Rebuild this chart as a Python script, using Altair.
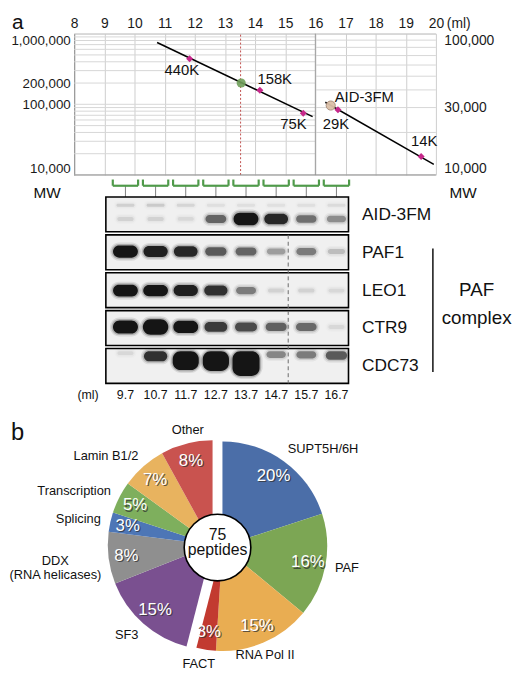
import numpy as np
import pandas as pd
import altair as alt

FONT = "Liberation Sans, Arial, Helvetica, sans-serif"

# ---------------- panel a : gel-filtration calibration ----------------
ml_ticks = [8, 9, 10, 11, 12, 13, 14, 15, 16, 17, 18, 19, 20]
left_range_ml = [8, 16]
right_range_ml = [16, 20]
left_labels_mw = [10000, 100000, 200000, 1000000]
right_labels_mw = [10000, 30000, 100000]
grid_left_mw = [10000, 20000, 30000, 40000, 50000, 60000, 70000, 80000, 90000,
                100000, 200000, 300000, 400000, 500000, 600000, 700000, 800000,
                900000, 1000000]
grid_right_mw = [10000, 20000, 30000, 40000, 50000, 60000, 70000, 80000, 90000,
                 100000]

std_names = ["440K", "158K", "75K", "29K", "14K"]
std_ml = [11.83, 14.16, 15.60, 16.75, 19.51]
std_mw = [440000, 158000, 75000, 29000, 13500]
std_side = ["left", "left", "left", "right", "right"]

fit_left_ml = [10.75, 15.91]
fit_left_mw = [750000, 67000]
fit_right_ml = [16.33, 19.93]
fit_right_mw = [32700, 11900]

peak_ml = [13.54]
peak_mw = [200000]
aid_ml = [16.51]
aid_mw = [31000]
fraction_ml = 13.52

# ---------------- western blots ----------------
blot_rows = ["AID-3FM", "PAF1", "LEO1", "CTR9", "CDC73"]
lanes = [9.7, 10.7, 11.7, 12.7, 13.7, 14.7, 15.7, 16.7]
lane_labels = ["9.7", "10.7", "11.7", "12.7", "13.7", "14.7", "15.7", "16.7"]
aid_signal = [0.13, 0.13, 0.1, 0.6, 1.15, 0.9, 0.55, 0.42]
paf1_signal = [1.1, 0.95, 0.9, 0.65, 0.6, 0.35, 0.5, 0.22]
leo1_signal = [1.05, 1.0, 0.95, 0.85, 0.5, 0.13, 0.13, 0.1]
ctr9_signal = [1.2, 1.5, 1.1, 0.8, 0.72, 0.62, 0.58, 0.1]
cdc73_signal = [0.1, 0.85, 1.9, 2.0, 2.6, 0.45, 0.5, 0.65]
aid_upper_signal = [0.18, 0.22, 0.16, 0.1, 0.1, 0.09, 0.1, 0.12]
divider_ml = 15.1

# ---------------- panel b : pie ----------------
pie_names = ["SUPT5H/6H", "PAF", "RNA Pol II", "FACT", "SF3",
             "DDX\n(RNA helicases)", "Splicing", "Transcription", "Lamin B1/2", "Other"]
pie_pct = [20, 16, 15, 3, 15, 8, 3, 5, 7, 8]
pie_colors = ["#4b6ea8", "#7ca654", "#e9ad52", "#c23a30", "#7a5090",
              "#8f8f8f", "#4d76b6", "#7eaf5d", "#e8b35f", "#c9534f"]
right_half = ["SUPT5H/6H", "PAF", "RNA Pol II", "FACT"]
total_peptides = 75

one = pd.DataFrame({"k": [0]})
W = 366

# =============== top chart ===============
xs = alt.Scale(domain=[8, 20], nice=False, zero=False)
axX = alt.Axis(orient="top", values=ml_ticks, grid=True, gridColor="#cdcdcd",
               domain=True, domainColor="#c4c4c4", ticks=False, labelPadding=3,
               labelFontSize=14, labelFont=FONT, labelColor="#1a1a1a", title=None,
               labelFlush=False)
scL = alt.Scale(type="log", domain=[1e4, 1e6], nice=False)
axL = alt.Axis(orient="left", values=left_labels_mw, format=",", grid=False,
               ticks=False, domainColor="#8c8c8c", labelFontSize=13.5, labelPadding=4,
               labelFlush=True, title=None, labelFont=FONT, labelColor="#1a1a1a")
scR = alt.Scale(type="log", domain=[1e4, 1e5], nice=False)
axR = alt.Axis(orient="right", values=right_labels_mw, format=",", grid=False,
               ticks=False, domain=False, labelFontSize=14, labelPadding=8,
               labelFlush=True, title=None, labelFont=FONT, labelColor="#1a1a1a")


def XT(f):
    return alt.X(f, scale=xs, axis=axX)


std = pd.DataFrame({"name": std_names, "ml": std_ml, "mw": std_mw, "side": std_side})
label_offset = {"440K": (-8, 11), "158K": (15, -11), "75K": (-10, 11),
                "29K": (-2, 15), "14K": (3, -16)}

gridL = alt.Chart(pd.DataFrame({"mw": grid_left_mw, "x0": left_range_ml[0],
                                "x1": left_range_ml[1]})).mark_rule(
    color="#d6d6d6", strokeWidth=1).encode(
    x=XT("x0:Q"), x2="x1:Q", y=alt.Y("mw:Q", scale=scL, axis=axL))
redline = alt.Chart(one).mark_rule(color="#c0504d", strokeDash=[2, 2], strokeWidth=1).encode(
    x=alt.XDatum(fraction_ml, scale=xs, axis=axX),
    y=alt.YDatum(1e4, scale=scL, axis=axL), y2=alt.datum(1e6))
fitL = alt.Chart(pd.DataFrame({"ml": fit_left_ml, "mw": fit_left_mw})).mark_line(
    color="black", strokeWidth=1.5).encode(x=XT("ml:Q"), y=alt.Y("mw:Q", scale=scL, axis=axL))
peak = alt.Chart(pd.DataFrame({"ml": peak_ml, "mw": peak_mw})).mark_point(
    shape="circle", filled=True, size=85, color="#6f9e5a", opacity=0.9).encode(
    x=XT("ml:Q"), y=alt.Y("mw:Q", scale=scL, axis=axL))
ptsL = alt.Chart(std[std.side == "left"]).mark_point(
    shape="diamond", filled=True, size=50, color="#c6288a", opacity=1).encode(
    x=XT("ml:Q"), y=alt.Y("mw:Q", scale=scL, axis=axL))
left_layers = [gridL, redline, fitL, peak, ptsL]
for nm in std_names[:3]:
    dx, dy = label_offset[nm]
    left_layers.append(alt.Chart(std[std.name == nm]).mark_text(
        dx=dx, dy=dy, fontSize=15, font=FONT, color="#111").encode(
        x=XT("ml:Q"), y=alt.Y("mw:Q", scale=scL, axis=axL), text="name:N"))
left_layers.append(alt.Chart(one).mark_text(
    text="a", fontSize=21, font=FONT, align="left", baseline="alphabetic", color="#111").encode(
    x=alt.value(-63), y=alt.value(-4.5)))

gridR = alt.Chart(pd.DataFrame({"mw": grid_right_mw, "x0": right_range_ml[0],
                                "x1": right_range_ml[1]})).mark_rule(
    color="#d6d6d6", strokeWidth=1).encode(
    x=XT("x0:Q"), x2="x1:Q", y=alt.Y("mw:Q", scale=scR, axis=axR))
divider = alt.Chart(one).mark_rule(color="#9a9a9a", strokeWidth=1).encode(
    x=alt.XDatum(right_range_ml[0], scale=xs, axis=axX),
    y=alt.YDatum(1e4, scale=scR, axis=axR), y2=alt.datum(1e5))
bottom = alt.Chart(one).mark_rule(color="#8c8c8c", strokeWidth=1).encode(
    x=alt.XDatum(8, scale=xs, axis=axX), x2=alt.datum(20),
    y=alt.YDatum(1e4, scale=scR, axis=axR))
fitR = alt.Chart(pd.DataFrame({"ml": fit_right_ml, "mw": fit_right_mw})).mark_line(
    color="black", strokeWidth=1.5).encode(x=XT("ml:Q"), y=alt.Y("mw:Q", scale=scR, axis=axR))
aiddf = pd.DataFrame({"ml": aid_ml, "mw": aid_mw, "name": ["AID-3FM"]})
aidpt = alt.Chart(aiddf).mark_point(
    shape="circle", filled=True, size=85, color="#dcc0a8", stroke="#a58a78",
    strokeWidth=1, opacity=0.95).encode(x=XT("ml:Q"), y=alt.Y("mw:Q", scale=scR, axis=axR))
aidlab = alt.Chart(aiddf).mark_text(
    dx=34, dy=-9, fontSize=15, font=FONT, color="#111").encode(
    x=XT("ml:Q"), y=alt.Y("mw:Q", scale=scR, axis=axR), text="name:N")
ptsR = alt.Chart(std[std.side == "right"]).mark_point(
    shape="diamond", filled=True, size=50, color="#c6288a", opacity=1).encode(
    x=XT("ml:Q"), y=alt.Y("mw:Q", scale=scR, axis=axR))
right_layers = [gridR, divider, bottom, fitR, aidpt, ptsR, aidlab]
for nm in std_names[3:]:
    dx, dy = label_offset[nm]
    right_layers.append(alt.Chart(std[std.name == nm]).mark_text(
        dx=dx, dy=dy, fontSize=15, font=FONT, color="#111").encode(
        x=XT("ml:Q"), y=alt.Y("mw:Q", scale=scR, axis=axR), text="name:N"))
right_layers.append(alt.Chart(one).mark_text(
    text="(ml)", fontSize=14, font=FONT, align="left", baseline="bottom", dx=11,
    color="#1a1a1a").encode(x=alt.XDatum(20, scale=xs, axis=axX), y=alt.value(-3)))

top = alt.layer(alt.layer(*left_layers), alt.layer(*right_layers)).resolve_scale(
    y="independent").properties(width=W, height=143)

# =============== blot panel ===============
xb = alt.Scale(domain=[8, 20], nice=False, zero=False)
yb = alt.Scale(domain=[-0.55, 5.5], reverse=True, nice=False, zero=False)


def XB(f):
    return alt.X(f, scale=xb, axis=None)


def YB(f):
    return alt.Y(f, scale=yb, axis=None)


def XBd(v):
    return alt.XDatum(v, scale=xb, axis=None)


def YBd(v):
    return alt.YDatum(v, scale=yb, axis=None)


signals = {"AID-3FM": aid_signal, "PAF1": paf1_signal, "LEO1": leo1_signal,
           "CTR9": ctr9_signal, "CDC73": cdc73_signal}
band_center = {"AID-3FM": 0.61, "PAF1": 0.47, "LEO1": 0.5, "CTR9": 0.46}
recs = []
for r, nm in enumerate(blot_rows):
    for ln, s in zip(lanes, signals[nm]):
        w = 0.5 + 0.32 * min(s, 1) + 0.05 * max(s - 1, 0)
        h = 0.08 + 0.22 * s
        if nm == "CDC73":
            y0 = r + 0.1
        else:
            y0 = r + band_center[nm] - h / 2
        recs.append(dict(row=nm, lane=ln, x0=ln - w / 2, x1=ln + w / 2,
                         y0=y0, y1=y0 + h, op=0.95 * min(1.0, s) ** 1.15,
                         a=min(1.0, s)))
for ln, s in zip(lanes, aid_upper_signal):
    recs.append(dict(row="AID-3FM", lane=ln, x0=ln - 0.3, x1=ln + 0.3,
                     y0=0.21, y1=0.29, op=0.6 * s, a=0.5 * s))
bands = pd.DataFrame(recs)
# soft halos around every band (imitating the blur of a film)
for k, (gx, gy, ga) in enumerate([(0.2, 0.16, 0.10), (0.1, 0.08, 0.22)]):
    bands[f"hx0_{k}"] = bands.x0 - gx / 2
    bands[f"hx1_{k}"] = bands.x1 + gx / 2
    bands[f"hy0_{k}"] = bands.y0 - gy / 2
    bands[f"hy1_{k}"] = bands.y1 + gy / 2
    bands[f"hop_{k}"] = ga * bands.a

boxes = pd.DataFrame({"row": blot_rows, "r": range(len(blot_rows))})
boxes["top"] = boxes.r + 0.03
boxes["bot"] = boxes.r + 0.95
boxes["ly"] = boxes.r + 0.5
boxes["lo"] = lanes[0] - 0.65
boxes["hi"] = lanes[-1] + 0.4

lanedf = pd.DataFrame({"lane": lanes, "lab": lane_labels})
lanedf["blo"] = lanedf.lane - 0.42
lanedf["bhi"] = lanedf.lane + 0.42

GREEN = "#4f9a4a"
blot_layers = [
    alt.Chart(lanedf).mark_rule(color="#808080", strokeWidth=1).encode(
        x=XB("lane:Q"), y=YBd(-0.266), y2=alt.datum(0.03)),
    alt.Chart(lanedf).mark_rule(color=GREEN, strokeWidth=2.2).encode(
        x=XB("blo:Q"), x2="bhi:Q", y=YBd(-0.266)),
    alt.Chart(lanedf).mark_rule(color=GREEN, strokeWidth=2.2).encode(
        x=XB("blo:Q"), y=YBd(-0.43), y2=alt.datum(-0.266)),
    alt.Chart(lanedf).mark_rule(color=GREEN, strokeWidth=2.2).encode(
        x=XB("bhi:Q"), y=YBd(-0.43), y2=alt.datum(-0.266)),
    alt.Chart(boxes).mark_rect(fill="#f0f0f0", stroke="black", strokeWidth=1.6).encode(
        x=XB("lo:Q"), x2="hi:Q", y=YB("top:Q"), y2="bot:Q"),
]
for k, cr in [(0, 12), (1, 10)]:
    blot_layers.append(alt.Chart(bands).mark_rect(color="#111111", cornerRadius=cr).encode(
        x=XB(f"hx0_{k}:Q"), x2=f"hx1_{k}:Q", y=YB(f"hy0_{k}:Q"), y2=f"hy1_{k}:Q",
        opacity=alt.Opacity(f"hop_{k}:Q", scale=None)))
blot_layers += [
    alt.Chart(bands).mark_rect(color="#0d0d0d", cornerRadius=8).encode(
        x=XB("x0:Q"), x2="x1:Q", y=YB("y0:Q"), y2="y1:Q",
        opacity=alt.Opacity("op:Q", scale=None)),
    alt.Chart(one).mark_rule(color="#6a6a6a", strokeDash=[4, 3], strokeWidth=1).encode(
        x=XBd(divider_ml), y=YBd(1.03), y2=alt.datum(4.95)),
    alt.Chart(boxes).mark_text(align="left", baseline="middle", fontSize=17.5,
                               font=FONT, color="#111").encode(
        x=XBd(17.55), y=YB("ly:Q"), text="row:N"),
    alt.Chart(lanedf).mark_text(baseline="middle", fontSize=12.5, font=FONT,
                                color="#111").encode(
        x=XB("lane:Q"), y=YBd(5.27), text="lab:N"),
    alt.Chart(one).mark_text(text="(ml)", baseline="middle", fontSize=12.5, font=FONT,
                             color="#111").encode(x=XBd(8.46), y=YBd(5.27)),
    alt.Chart(one).mark_text(text="MW", baseline="middle", fontSize=15.5, font=FONT,
                             color="#111").encode(x=XBd(7.1), y=YBd(-0.08)),
    alt.Chart(one).mark_text(text="MW", baseline="middle", fontSize=15.5, font=FONT,
                             color="#111").encode(x=XBd(20.9), y=YBd(-0.08)),
    alt.Chart(one).mark_rule(color="#111", strokeWidth=1.5).encode(
        x=XBd(19.9), y=YBd(1.39), y2=alt.datum(4.65)),
    alt.Chart(one).mark_text(text="PAF", baseline="middle", fontSize=19, font=FONT,
                             color="#111").encode(x=XBd(21.35), y=YBd(2.5)),
    alt.Chart(one).mark_text(text="complex", baseline="middle", fontSize=19, font=FONT,
                             color="#111").encode(x=XBd(21.35), y=YBd(3.22)),
]
blot = alt.layer(*blot_layers).properties(width=W, height=232)

# =============== pie panel ===============
pdf = pd.DataFrame({"name": pie_names, "pct": pie_pct})
cum = np.cumsum(pie_pct)
pdf["t1"] = cum / 100.0 * 2 * np.pi
pdf["t0"] = pdf["t1"] - pdf["pct"] / 100.0 * 2 * np.pi
pdf["tm"] = (pdf["t0"] + pdf["t1"]) / 2
pdf["plabel"] = [f"{p}%" for p in pie_pct]
deg = np.degrees(pdf["tm"])
pdf["align"] = np.where((deg > 20) & (deg < 150), "left",
                        np.where(((deg >= 150) & (deg <= 200)) | (deg >= 330) | (deg <= 20),
                                 "center", "right"))
pdf["multi"] = pdf["name"].str.contains("\n")
pdf["half"] = np.where(pdf["name"].isin(right_half), "right", "left")

CX, CY = 145, 143
shift = {"right": (5, 0.6), "left": (-5, -0.6)}
cscale = alt.Scale(domain=pie_names, range=pie_colors)
pie_layers = []
for half in ["right", "left"]:
    ox, oy = shift[half]
    sub = pdf[pdf.half == half]
    pie_layers.append(alt.Chart(sub).mark_arc(radius=106).encode(
        theta=alt.Theta("t0:Q", scale=None, stack=None), theta2="t1:Q",
        color=alt.Color("name:N", scale=cscale, legend=None),
        x=alt.value(CX + ox), y=alt.value(CY + oy)))
pie_layers.append(alt.Chart(one).mark_point(
    shape="circle", size=4550, filled=True, color="white", stroke="black",
    strokeWidth=1.6, opacity=1).encode(x=alt.value(CX), y=alt.value(CY + 2)))
for half in ["right", "left"]:
    ox, oy = shift[half]
    sub = pdf[pdf.half == half]
    pie_layers.append(alt.Chart(sub).mark_text(
        fontSize=17, font=FONT, color="#333333", opacity=0.75, dx=1.3, dy=1.3).encode(
        theta=alt.Theta("tm:Q", scale=None, stack=None), radius=alt.value(88),
        text="plabel:N", x=alt.value(CX + ox), y=alt.value(CY + oy)))
    pie_layers.append(alt.Chart(sub).mark_text(
        fontSize=17, font=FONT, color="white").encode(
        theta=alt.Theta("tm:Q", scale=None, stack=None), radius=alt.value(88),
        text="plabel:N", x=alt.value(CX + ox), y=alt.value(CY + oy)))
pie_layers.append(alt.Chart(pd.DataFrame({"t": [str(total_peptides)]})).mark_text(
    fontSize=16, font=FONT, color="#111", baseline="middle").encode(
    text="t:N", x=alt.value(CX), y=alt.value(CY - 11)))
pie_layers.append(alt.Chart(one).mark_text(
    text="peptides", fontSize=16, font=FONT, color="#111", baseline="middle").encode(
    x=alt.value(CX), y=alt.value(CY + 5)))
for al in ["left", "center", "right"]:
    sub = pdf[(pdf["align"] == al) & (~pdf["multi"])]
    pie_layers.append(alt.Chart(sub).mark_text(
        align=al, baseline="middle", fontSize=13, font=FONT, color="#111").encode(
        theta=alt.Theta("tm:Q", scale=None, stack=None), radius=alt.value(121),
        text="name:N", x=alt.value(CX), y=alt.value(CY)))
pie_layers.append(alt.Chart(pdf[pdf["multi"]]).mark_text(
    align="center", baseline="middle", fontSize=13, font=FONT, color="#111",
    lineBreak="\n", lineHeight=15, dx=-44).encode(
    theta=alt.Theta("tm:Q", scale=None, stack=None), radius=alt.value(121),
    text="name:N", x=alt.value(CX), y=alt.value(CY)))
pie_layers.append(alt.Chart(one).mark_text(
    text="b", fontSize=24, font=FONT, align="left", baseline="alphabetic",
    color="#111").encode(x=alt.value(-64), y=alt.value(36)))
pie = alt.layer(*pie_layers).properties(width=W, height=250)

chart = alt.vconcat(top, blot, pie, spacing=0, bounds="flush").properties(
    padding=0, background="white").configure_view(stroke=None).configure_text(font=FONT)

chart.save("out.html", embed_options={"renderer": "svg", "actions": False})
